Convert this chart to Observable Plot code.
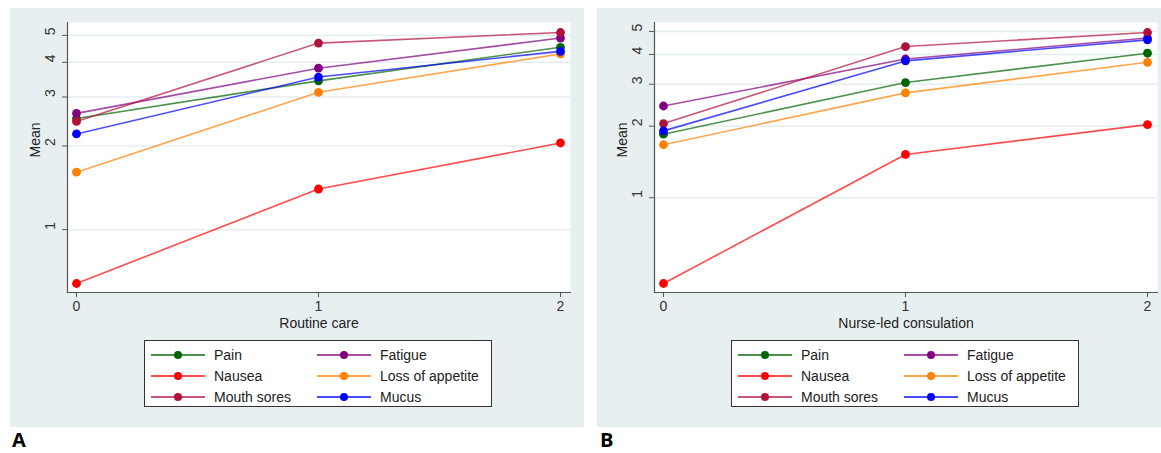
<!DOCTYPE html>
<html><head><meta charset="utf-8">
<script src="https://cdn.jsdelivr.net/npm/d3@7"></script>
<script src="https://cdn.jsdelivr.net/npm/@observablehq/plot@0.6"></script>
<style>
body{margin:0;background:#fff;font-family:"Liberation Sans",Arial,sans-serif;}
#root{position:relative;width:1161px;height:453px;overflow:hidden;background:#fff;}
.panel{position:absolute;top:8px;height:419px;background:#e8eff1;}
.panel svg{position:absolute;left:0;top:0;overflow:visible;}
.legend{position:absolute;top:332px;height:67px;box-sizing:border-box;border:1.5px solid #333;background:#fff;
  display:grid;grid-template-columns:166px 180px;grid-auto-rows:21px;padding:3px 0 0 6px;font-size:14px;color:#222;}
.legend .item{display:flex;align-items:center;white-space:nowrap;}
.legend svg{position:static;margin-right:9px;}
.tag{position:absolute;top:429px;font:bold 20px "Open Sans",sans-serif;line-height:22px;color:#000;}
</style>
</head><body>
<div id="root"></div>
<script>
const timepoints = [0, 1, 2];
const symptoms = ["Pain", "Fatigue", "Nausea", "Loss of appetite", "Mouth sores", "Mucus"];
const colors = ["#006400", "#800080", "#ff0000", "#ff8000", "#b0103a", "#0000ff"];
const yTicks = [1, 2, 3, 4, 5];

// Routine care (panel A)
const routinePain = [2.51, 3.43, 4.53];
const routineFatigue = [2.62, 3.81, 4.89];
const routineNausea = [0.64, 1.40, 2.05];
const routineAppetite = [1.61, 3.12, 4.29];
const routineMouth = [2.45, 4.69, 5.12];
const routineMucus = [2.21, 3.54, 4.38];

// Nurse-led consultation (panel B)
const nursePain = [1.85, 3.05, 4.05];
const nurseFatigue = [2.43, 3.83, 4.69];
const nurseNausea = [0.436, 1.52, 2.03];
const nurseAppetite = [1.67, 2.76, 3.71];
const nurseMouth = [2.05, 4.32, 4.95];
const nurseMucus = [1.91, 3.76, 4.61];

const routine = [routinePain, routineFatigue, routineNausea, routineAppetite, routineMouth, routineMucus];
const nurse = [nursePain, nurseFatigue, nurseNausea, nurseAppetite, nurseMouth, nurseMucus];

function chart(series, xLabel, w) {
  const data = [];
  symptoms.forEach((s, i) => series[i].forEach((v, j) => data.push({symptom: s, time: timepoints[j], mean: v})));
  const H = 330;
  return Plot.plot({
    width: w, height: H,
    marginLeft: 57, marginRight: w - 57 - 503, marginTop: 14, marginBottom: H - 284,
    style: {background: "transparent", fontFamily: "Liberation Sans, Arial, sans-serif", fontSize: "14px", color: "#333", overflow: "visible"},
    x: {domain: [0, 2], insetLeft: 9, insetRight: 10, label: null},
    y: {type: "log", domain: d3.extent(data, d => d.mean), insetTop: 10, insetBottom: 9, label: null},
    color: {domain: symptoms, range: colors},
    marks: [
      Plot.frame({fill: "white", stroke: null}),
      Plot.gridY(yTicks, {stroke: "#e4edf0", strokeOpacity: 1, strokeWidth: 1.5}),
      Plot.frame({anchor: "left", stroke: "#555", strokeWidth: 1.2}),
      Plot.frame({anchor: "bottom", stroke: "#555", strokeWidth: 1.2}),
      Plot.axisY(yTicks, {tickSize: 5, tickFormat: () => "", stroke: "#555", label: null}),
      Plot.text(yTicks, {y: d => d, text: d => String(d), frameAnchor: "left", dx: -17, rotate: -90, fill: "#333", fontSize: 14}),
      Plot.axisX(timepoints, {tickSize: 5, tickPadding: 4, stroke: "#555", fill: "#333", label: null, tickFormat: d => String(d)}),
      Plot.text([xLabel], {text: d => d, frameAnchor: "bottom", dy: 35, fill: "#222", fontSize: 14}),
      Plot.text(["Mean"], {text: d => d, frameAnchor: "left", dx: -32, rotate: -90, fill: "#222", fontSize: 14}),
      Plot.line(data, {x: "time", y: "mean", z: "symptom", stroke: "symptom", strokeOpacity: 0.7, strokeWidth: 1.6}),
      Plot.dot(data, {x: "time", y: "mean", fill: "symptom", r: 4.4})
    ]
  });
}

function legend(left, width) {
  const lg = document.createElement("div");
  lg.className = "legend";
  lg.style.left = left + "px";
  lg.style.width = width + "px";
  symptoms.forEach((s, i) => {
    const it = document.createElement("div");
    it.className = "item";
    it.innerHTML = `<svg width="54" height="10"><line x1="0" x2="54" y1="5" y2="5" stroke="${colors[i]}" stroke-opacity="0.7" stroke-width="1.8"/><circle cx="27" cy="5" r="4" fill="${colors[i]}"/></svg><span>${s}</span>`;
    lg.appendChild(it);
  });
  return lg;
}

const root = document.getElementById("root");
function panel(left, w, series, label) {
  const p = document.createElement("div");
  p.className = "panel";
  p.style.left = left + "px";
  p.style.width = w + "px";
  p.appendChild(chart(series, label, w));
  p.appendChild(legend(134, 348));
  root.appendChild(p);
}
panel(10, 574, routine, "Routine care");
panel(597, 564, nurse, "Nurse-led consulation");

[["A", 12], ["B", 600]].forEach(([t, x]) => {
  const d = document.createElement("div");
  d.className = "tag";
  d.style.left = x + "px";
  d.textContent = t;
  root.appendChild(d);
});
</script>
</body></html>
